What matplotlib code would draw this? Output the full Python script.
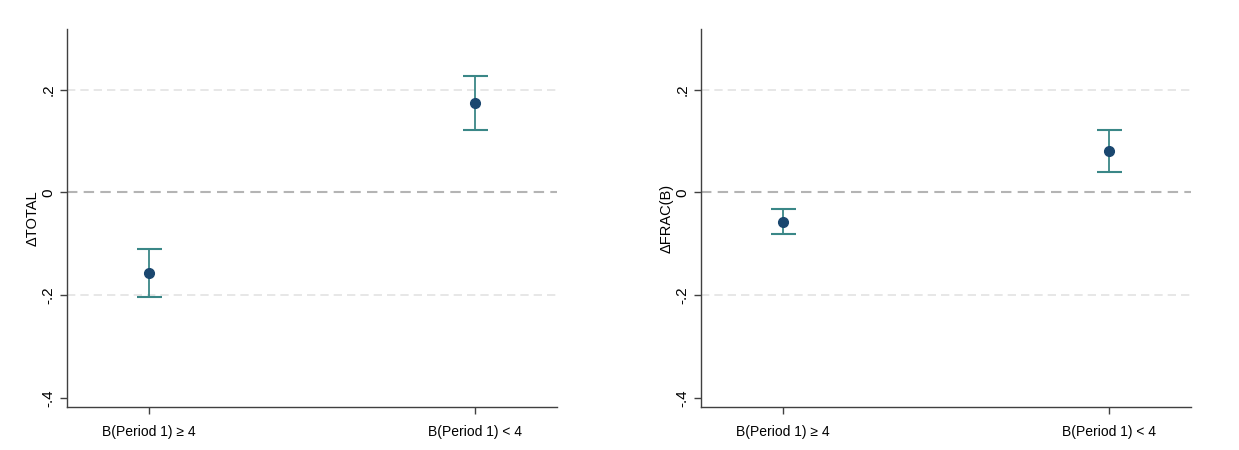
import matplotlib.pyplot as plt

plt.rcParams['font.family'] = ['Liberation Sans', 'DejaVu Sans']

groups = ["B(Period 1) \u2265 4", "B(Period 1) < 4"]

total_est = [-0.157, 0.1745]
total_lo = [-0.203, 0.122]
total_hi = [-0.111, 0.227]

frac_est = [-0.057, 0.081]
frac_lo = [-0.0806, 0.0395]
frac_hi = [-0.0325, 0.122]

panels = [("\u0394TOTAL", total_est, total_lo, total_hi),
          ("\u0394FRAC(B)", frac_est, frac_lo, frac_hi)]

line_col = "#3a8787"
dot_col = "#1a476f"

fig = plt.figure(figsize=(12.39, 4.5), dpi=100)
lefts = [0.0541, 0.5658]

for left, (ylabel, est, lo, hi) in zip(lefts, panels):
    ax = fig.add_axes([left, 0.0956, 0.3955, 0.84])
    xs = list(range(len(groups)))
    err = [[e - l for e, l in zip(est, lo)], [h - e for e, h in zip(est, hi)]]
    ax.errorbar(xs, est, yerr=err, fmt="none", ecolor=line_col, elinewidth=1.3,
                capsize=9, capthick=1.5, zorder=3)
    ax.plot(xs, est, "o", color=dot_col, markersize=7, zorder=4)

    for g in [0.2, -0.2]:
        ax.axhline(g, color="#e3e3e3", linestyle=(0, (5, 3)), linewidth=1.2, zorder=1)
    ax.axhline(0, color="#b4b4b4", linestyle=(0, (5, 3)), linewidth=1.5, zorder=1)

    ax.set_xlim(-0.25, 1.25)
    ax.set_ylim(-0.418, 0.318)
    ax.set_xticks(xs)
    ax.set_xticklabels(groups, fontsize=10)
    ax.set_yticks([-0.4, -0.2, 0, 0.2])
    ax.set_yticklabels(["-.4", "-.2", "0", ".2"], fontsize=11, rotation=90, va="center")
    ax.set_ylabel(ylabel, fontsize=10.5, labelpad=1.5)

    for s in ["top", "right"]:
        ax.spines[s].set_visible(False)
    for s in ["left", "bottom"]:
        ax.spines[s].set_color("#404040")
        ax.spines[s].set_linewidth(1.0)
    ax.tick_params(axis="both", colors="#404040", length=5, width=1.0, labelcolor="black")
    ax.tick_params(axis="x", pad=8)

fig.savefig("out.png", dpi=100)
